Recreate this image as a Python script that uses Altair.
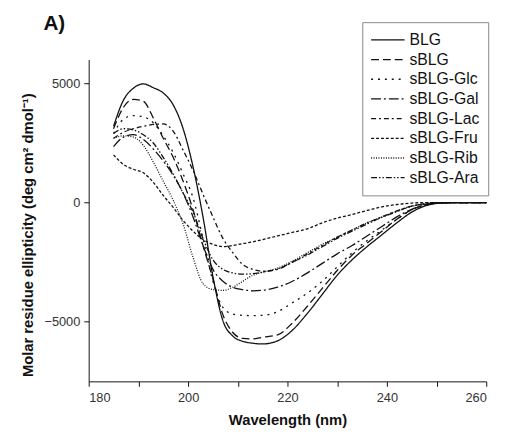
import altair as alt
import pandas as pd

wavelength = [185, 187, 189, 191, 193, 195, 197, 199, 201, 203, 205, 207, 209, 211, 213,
              215, 218, 221, 224, 227, 230, 233, 236, 239, 242, 245, 248, 251, 255, 260]

blg      = [3200, 4300, 4800, 4980, 4820, 4600, 4100, 3100, 1500, -600, -3100, -4950, -5600, -5820, -5900,
            -5930, -5800, -5350, -4650, -3850, -3050, -2400, -1850, -1350, -850, -400, -120, -20, 0, 0]
sblg     = [3100, 4000, 4330, 4250, 3550, 2700, 1900, 900, -300, -1800, -3200, -4700, -5450, -5700, -5720,
            -5650, -5550, -5050, -4350, -3600, -2850, -2200, -1700, -1200, -700, -300, -80, -10, 0, 0]
sblg_glc = [2900, 3500, 3650, 3600, 3350, 2800, 2100, 1200, 200, -1500, -3300, -4400, -4680, -4730, -4740,
            -4730, -4580, -4200, -3800, -3300, -2700, -2100, -1600, -1150, -700, -300, -80, -10, 0, 0]
sblg_gal = [2350, 2750, 2850, 2650, 2250, 1750, 1150, 400, -600, -1800, -2800, -3300, -3550, -3650, -3700,
            -3680, -3550, -3300, -2950, -2550, -2150, -1800, -1400, -1000, -600, -280, -80, -10, 0, 0]
sblg_lac = [2700, 2950, 3100, 3200, 3280, 3300, 3000, 2200, 1350, 350, -600, -1500, -2100, -2600, -2800,
            -2880, -2800, -2500, -2150, -1800, -1450, -1150, -850, -600, -350, -150, -40, 0, 0, 0]
sblg_fru = [2000, 1600, 1400, 1250, 850, 300, -200, -750, -1200, -1550, -1750, -1850, -1800, -1720, -1650,
            -1550, -1400, -1250, -1100, -850, -650, -500, -330, -180, -80, -20, 0, 0, 0, 0]
sblg_rib = [2700, 2800, 2750, 2400, 1700, 900, 100, -900, -2300, -3400, -3650, -3680, -3550, -3300, -3050,
            -2920, -2750, -2450, -2100, -1750, -1450, -1150, -850, -600, -350, -150, -40, 0, 0, 0]
sblg_ara = [2900, 3100, 3050, 2850, 2500, 1900, 1200, 400, -400, -1500, -2400, -2800, -2950, -3000, -2980,
            -2920, -2780, -2500, -2200, -1850, -1500, -1200, -900, -620, -380, -150, -40, 0, 0, 0]

names = ["BLG", "sBLG", "sBLG-Glc", "sBLG-Gal", "sBLG-Lac", "sBLG-Fru", "sBLG-Rib", "sBLG-Ara"]
series = [blg, sblg, sblg_glc, sblg_gal, sblg_lac, sblg_fru, sblg_rib, sblg_ara]
dashes = [[1, 0], [8, 4], [2, 5], [10, 3, 2, 3], [5, 3, 2, 3], [3, 2], [1, 1.5], [6, 2, 1.5, 2, 1.5, 2]]

x_ticks = [180, 190, 200, 210, 220, 230, 240, 250, 260]
y_ticks = [-5000, 0, 5000]

rows = []
for name, vals in zip(names, series):
    for w, v in zip(wavelength, vals):
        rows.append({"wl": w, "val": v, "series": name})
df = pd.DataFrame(rows)

font = "Liberation Sans"

chart = alt.Chart(df).mark_line(interpolate="monotone", strokeWidth=1.3, color="#111").encode(
    x=alt.X("wl:Q", scale=alt.Scale(domain=[180, 260], nice=False),
            axis=alt.Axis(title="Wavelength (nm)", values=x_ticks, format="d",
                          labelExpr="datum.value % 20 == 0 ? datum.label : ''",
                          grid=False, tickSize=5, labelFontSize=13, titleFontSize=15,
                          titleFontWeight="bold", titlePadding=9, labelPadding=5,
                          domainColor="#111", tickColor="#111", labelColor="#333",
                          titleColor="#111", labelFont=font, titleFont=font)),
    y=alt.Y("val:Q", scale=alt.Scale(domain=[-7500, 6000], nice=False),
            axis=alt.Axis(title="Molar residue ellipticity (deg cm² dmol⁻¹)", values=y_ticks,
                          format="d", grid=False, tickSize=5, labelFontSize=13, titleFontSize=15,
                          titleFontWeight="bold", titleAngle=270, titleAlign="center",
                          titleBaseline="bottom", titleX=-54, titleY=178, labelPadding=4,
                          domainColor="#111", tickColor="#111", labelColor="#333",
                          titleColor="#111", labelFont=font, titleFont=font)),
    strokeDash=alt.StrokeDash("series:N", scale=alt.Scale(domain=names, range=dashes),
                              legend=alt.Legend(orient="none", legendX=278, legendY=-38, title=None,
                                                symbolType="stroke", symbolSize=1156,
                                                symbolStrokeWidth=1.3, symbolStrokeColor="#111",
                                                clipHeight=20, rowPadding=0, labelFontSize=16,
                                                labelFont=font, labelColor="#111", labelOffset=4,
                                                strokeColor="#888", fillColor="white", padding=8)),
    detail="series:N",
).properties(
    width=404, height=327,
    title=alt.TitleParams("A)", anchor="start", frame="group", dx=-46, dy=30, offset=18,
                          fontSize=21, fontWeight="bold", font=font, color="#111"),
    autosize=alt.AutoSizeParams(type="none"),
    padding={"left": 82, "top": 49, "right": 16, "bottom": 46},
).configure_view(stroke=None)

chart.save("out.html", embed_options={"renderer": "svg", "actions": False})
